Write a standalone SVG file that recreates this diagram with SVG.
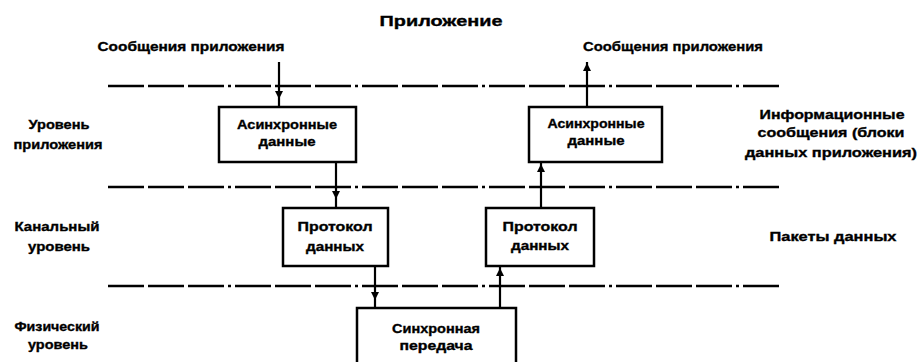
<svg xmlns="http://www.w3.org/2000/svg" xmlns:xlink="http://www.w3.org/1999/xlink" width="918" height="362" viewBox="0 0 918 362">
<style>
text{font-family:"Liberation Sans",Arial,sans-serif;font-weight:bold;fill:#000;stroke:#000;stroke-width:0.35;text-anchor:middle}
.t{font-size:13px}
.ttl{font-size:15px}
.box{fill:#fff;stroke:#000;stroke-width:2.5}
.lvl{stroke:#000;stroke-width:2.5;stroke-dasharray:36 4 36 4 36 4 3 4;fill:none}
.sh{stroke:#000;stroke-width:2.2;fill:none}
.ah{fill:#000}
</style>
<defs>
<path id="down" class="ah" d="M-4,-8 L4,-8 L0,0 Z"/>
<path id="up" class="ah" d="M-4,8 L4,8 L0,0 Z"/>
</defs>
<rect width="918" height="362" fill="#fff"/>
<g id="labels">
<text class="ttl" x="441" y="26" textLength="123" lengthAdjust="spacingAndGlyphs">Приложение</text>
<text class="t" x="191" y="51" textLength="187" lengthAdjust="spacingAndGlyphs">Сообщения приложения</text>
<text class="t" x="673" y="51" textLength="180" lengthAdjust="spacingAndGlyphs">Сообщения приложения</text>
<text class="t" x="59" y="129" textLength="61" lengthAdjust="spacingAndGlyphs">Уровень</text>
<text class="t" x="58" y="149" textLength="89" lengthAdjust="spacingAndGlyphs">приложения</text>
<text class="t" x="57" y="231" textLength="85" lengthAdjust="spacingAndGlyphs">Канальный</text>
<text class="t" x="59" y="251" textLength="62" lengthAdjust="spacingAndGlyphs">уровень</text>
<text class="t" x="57" y="331" textLength="85" lengthAdjust="spacingAndGlyphs">Физический</text>
<text class="t" x="58" y="349" textLength="60" lengthAdjust="spacingAndGlyphs">уровень</text>
<text class="t" x="832" y="119" textLength="145" lengthAdjust="spacingAndGlyphs">Информационные</text>
<text class="t" x="831" y="137" textLength="147" lengthAdjust="spacingAndGlyphs">сообщения (блоки</text>
<text class="t" x="831" y="157" textLength="172" lengthAdjust="spacingAndGlyphs">данных приложения)</text>
<text class="t" x="833" y="241" textLength="127" lengthAdjust="spacingAndGlyphs">Пакеты данных</text>
</g>
<g id="levels">
<line class="lvl" x1="108" y1="86" x2="783" y2="86"/>
<line class="lvl" x1="108" y1="187" x2="783" y2="187"/>
<line class="lvl" x1="108" y1="286" x2="783" y2="286"/>
</g>
<g id="connectors">
<line class="sh" x1="279" y1="62" x2="279" y2="107"/>
<use href="#down" x="279" y="99"/>
<line class="sh" x1="336" y1="162" x2="336" y2="208"/>
<use href="#down" x="336" y="199"/>
<line class="sh" x1="375" y1="266" x2="375" y2="308"/>
<use href="#down" x="375" y="300"/>
<line class="sh" x1="500" y1="308" x2="500" y2="266"/>
<use href="#up" x="500" y="268"/>
<line class="sh" x1="541" y1="207" x2="541" y2="162"/>
<use href="#up" x="541" y="164"/>
<line class="sh" x1="587" y1="107" x2="587" y2="62"/>
<use href="#up" x="587" y="63"/>
</g>
<g id="async-left">
<rect class="box" x="219" y="107" width="137" height="55"/>
<text class="t" x="287" y="129" textLength="100" lengthAdjust="spacingAndGlyphs">Асинхронные</text>
<text class="t" x="287" y="146" textLength="57" lengthAdjust="spacingAndGlyphs">данные</text>
</g>
<g id="async-right">
<rect class="box" x="529" y="107" width="133" height="55"/>
<text class="t" x="596" y="128" textLength="97" lengthAdjust="spacingAndGlyphs">Асинхронные</text>
<text class="t" x="596" y="145" textLength="57" lengthAdjust="spacingAndGlyphs">данные</text>
</g>
<g id="proto-left">
<rect class="box" x="283" y="208" width="105" height="58"/>
<text class="t" x="335" y="231" textLength="75" lengthAdjust="spacingAndGlyphs">Протокол</text>
<text class="t" x="335" y="251" textLength="58" lengthAdjust="spacingAndGlyphs">данных</text>
</g>
<g id="proto-right">
<rect class="box" x="486" y="208" width="108" height="58"/>
<text class="t" x="540" y="231" textLength="75" lengthAdjust="spacingAndGlyphs">Протокол</text>
<text class="t" x="540" y="250" textLength="58" lengthAdjust="spacingAndGlyphs">данных</text>
</g>
<g id="sync">
<rect class="box" x="357" y="308" width="159" height="60"/>
<text class="t" x="436" y="333" textLength="88" lengthAdjust="spacingAndGlyphs">Синхронная</text>
<text class="t" x="436" y="350" textLength="73" lengthAdjust="spacingAndGlyphs">передача</text>
</g>
</svg>
